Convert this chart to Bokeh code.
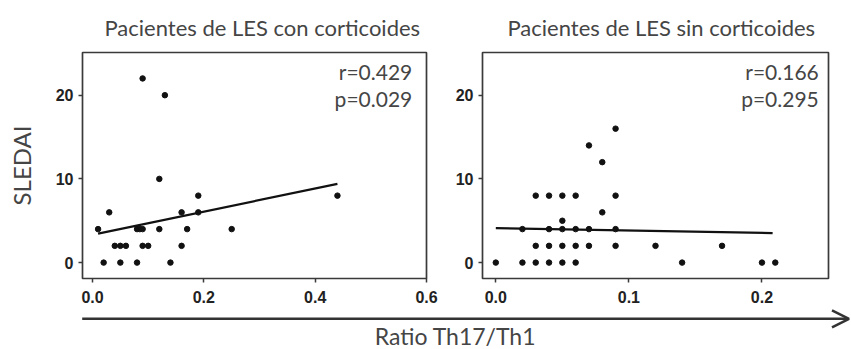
import numpy as np
from bokeh.plotting import figure
from bokeh.layouts import column, row
from bokeh.models import Range1d, Label, Arrow, OpenHead, FixedTicker, NumeralTickFormatter
from bokeh.embed import file_html
from bokeh.resources import INLINE

# ---------------- data ----------------
titles = ["Pacientes de LES con corticoides", "Pacientes de LES sin corticoides"]
stats_r = ["r=0.429", "r=0.166"]
stats_p = ["p=0.029", "p=0.295"]
y_label = "SLEDAI"
x_label = "Ratio Th17/Th1"

cort_x = [0.02, 0.05, 0.08, 0.14,
          0.04, 0.05, 0.06, 0.09, 0.10, 0.16,
          0.01, 0.08, 0.085, 0.09, 0.12, 0.17, 0.25,
          0.03, 0.16, 0.19,
          0.19, 0.44,
          0.12, 0.13, 0.09]
cort_y = [0, 0, 0, 0,
          2, 2, 2, 2, 2, 2,
          4, 4, 4, 4, 4, 4, 4,
          6, 6, 6,
          8, 8,
          10, 20, 22]
cort_fit_x = [0.01, 0.44]
cort_fit_y = [3.46, 9.4]

sin_x = [0.0, 0.02, 0.03, 0.04, 0.05, 0.06, 0.14, 0.20, 0.21,
         0.03, 0.04, 0.05, 0.06, 0.07, 0.09, 0.12, 0.17,
         0.02, 0.04, 0.05, 0.06, 0.07, 0.09,
         0.05, 0.08,
         0.03, 0.04, 0.05, 0.06, 0.09,
         0.08, 0.07, 0.09]
sin_y = [0, 0, 0, 0, 0, 0, 0, 0, 0,
         2, 2, 2, 2, 2, 2, 2, 2,
         4, 4, 4, 4, 4, 4,
         5, 6,
         8, 8, 8, 8, 8,
         12, 14, 16]
sin_fit_x = [0.0, 0.208]
sin_fit_y = [4.12, 3.53]

cort_xticks = [0.0, 0.2, 0.4, 0.6]
sin_xticks = [0.0, 0.1, 0.2]
y_ticks = [0, 10, 20]

# ---------------- styling ----------------
GREY_TXT = "#454545"
FRAME = "#3a3a3a"
TXT_FONT = "Lato"
TICK_FONT = "Liberation Sans"


def make_panel(xs, ys, fx, fy, xr, xticks, width, bl, br, title, title_offset, rtxt, ptxt, stat_x):
    p = figure(width=width, height=308, x_range=Range1d(*xr), y_range=Range1d(-1.9, 25.1),
               output_backend="svg", toolbar_location=None, tools="", title=title,
               min_border_left=bl, min_border_right=br, min_border_top=48, min_border_bottom=30)
    p.title.align = "left"
    p.title.offset = title_offset
    p.title.standoff = 23
    p.title.text_font = TXT_FONT
    p.title.text_font_size = "22px"
    p.title.text_font_style = "normal"
    p.title.text_color = GREY_TXT
    p.grid.visible = False
    p.outline_line_color = FRAME
    p.outline_line_width = 1.7
    p.xaxis.ticker = FixedTicker(ticks=xticks)
    p.xaxis.formatter = NumeralTickFormatter(format="0.0")
    p.yaxis.ticker = FixedTicker(ticks=y_ticks)
    for ax in (p.xaxis, p.yaxis):
        ax.axis_line_color = None
        ax.major_tick_in = 0
        ax.major_tick_out = 4
        ax.major_tick_line_color = FRAME
        ax.major_tick_line_width = 1.5
        ax.minor_tick_line_color = None
        ax.major_label_text_font = TICK_FONT
        ax.major_label_text_font_style = "bold"
        ax.major_label_text_font_size = "16px"
        ax.major_label_text_color = "#222222"
    p.xaxis.major_label_standoff = 8
    p.yaxis.major_label_standoff = 5

    p.line(fx, fy, line_color="#111111", line_width=2.2)
    p.scatter(xs, ys, size=5.5, color="#111111")

    p.add_layout(Label(x=stat_x, y=22.84, text=rtxt, text_font=TXT_FONT, text_font_size="21px",
                       text_color=GREY_TXT, text_align="right", text_baseline="alphabetic"))
    p.add_layout(Label(x=stat_x, y=19.55, text=ptxt, text_font=TXT_FONT, text_font_size="21px",
                       text_color=GREY_TXT, text_align="right", text_baseline="alphabetic"))
    return p


p1 = make_panel(cort_x, cort_y, cort_fit_x, cort_fit_y, (-0.018, 0.6), cort_xticks,
                440, 82, 14, titles[0], 22, stats_r[0], stats_p[0], 0.5744)
p1.yaxis.axis_label = y_label
p1.yaxis.axis_label_standoff = 17
p1.yaxis.axis_label_text_font = TXT_FONT
p1.yaxis.axis_label_text_font_size = "24px"
p1.yaxis.axis_label_text_font_style = "normal"
p1.yaxis.axis_label_text_color = GREY_TXT

p2 = make_panel(sin_x, sin_y, sin_fit_x, sin_fit_y, (-0.01, 0.25), sin_xticks,
                411, 42, 23, titles[1], 25, stats_r[1], stats_p[1], 0.2427)

# bottom strip with the shared arrow and axis title (coordinates in strip pixels)
p3 = figure(width=851, height=41, x_range=Range1d(0, 851), y_range=Range1d(0, 41),
            output_backend="svg", toolbar_location=None, tools="", title=None,
            x_axis_type=None, y_axis_type=None, min_border=0)
p3.grid.visible = False
p3.outline_line_color = None
p3.add_layout(Arrow(end=OpenHead(size=17, line_width=2.5, line_color="#333333"),
                    x_start=81.7, y_start=30.7, x_end=848.5, y_end=30.7,
                    line_width=2.6, line_color="#333333"))
p3.add_layout(Label(x=455, y=14, text=x_label, text_font=TXT_FONT, text_font_size="23px",
                    text_color=GREY_TXT, text_align="center", text_baseline="alphabetic"))

layout = column(row(p1, p2), p3)
open("out.html", "w").write(file_html(layout, INLINE))
